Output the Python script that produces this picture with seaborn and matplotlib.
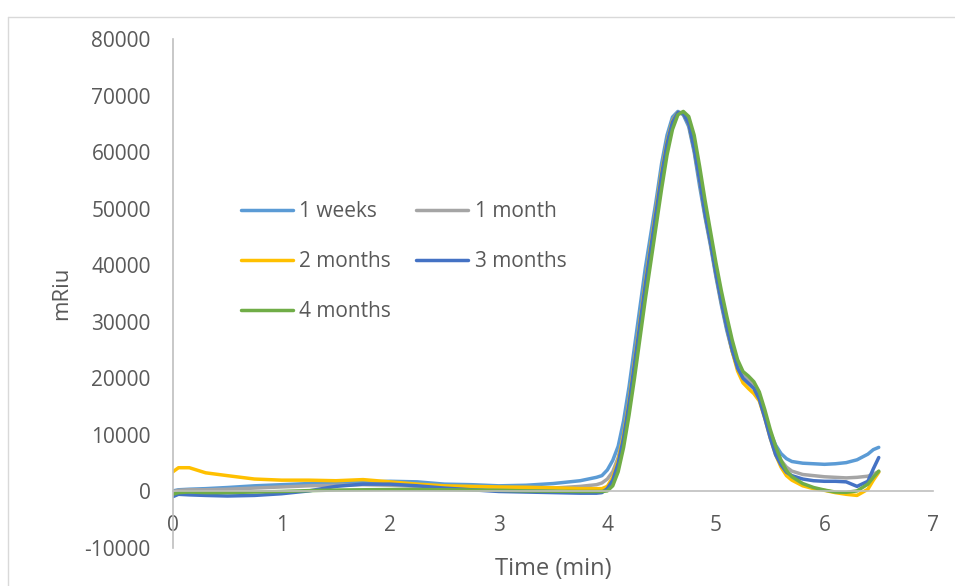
import pandas as pd
import matplotlib.pyplot as plt
import seaborn as sns
from matplotlib.lines import Line2D

# sampling times (min) shared by all runs
time_min = [0, 0.05, 0.15, 0.3, 0.5, 0.75, 1.0, 1.25, 1.5, 1.75, 2.0, 2.25, 2.5, 2.75,
            3.0, 3.25, 3.5, 3.75, 3.9, 3.95,
            4.0, 4.05, 4.1, 4.15, 4.2, 4.25, 4.3, 4.35, 4.4, 4.45,
            4.5, 4.55, 4.6, 4.65, 4.7, 4.75, 4.8, 4.85, 4.9, 4.95,
            5.0, 5.05, 5.1, 5.15, 5.2, 5.25, 5.3, 5.35, 5.4, 5.45,
            5.5, 5.55, 5.6, 5.65, 5.7,
            5.8, 5.9, 6.0, 6.1, 6.2, 6.3, 6.4, 6.45, 6.5]

one_week = [100, 300, 400, 500, 700, 1000, 1200, 1400, 1500, 1650, 1800, 1700, 1300, 1200,
            1000, 1100, 1400, 1900, 2500, 2800,
            3800, 5500, 8000, 12500, 18500, 25500, 32500, 39500, 45500, 51500,
            58000, 63000, 66200, 67200, 66600, 64500, 60000, 54000, 48500, 43500,
            38000, 33000, 28500, 24800, 21800, 20200, 19600, 18500, 16500, 13500,
            10500, 8200, 6700, 5800, 5300,
            5000, 4900, 4800, 4900, 5100, 5600, 6600, 7400, 7800]

one_month = [0, 200, 300, 300, 400, 600, 800, 1000, 1100, 1200, 1100, 900, 700, 600,
             500, 500, 600, 900, 1200, 1500,
             2200, 3500, 6000, 10000, 15500, 22500, 29500, 36500, 43000, 49500,
             56000, 61500, 65300, 67000, 67000, 65300, 61000, 55500, 49500, 44500,
             39000, 34000, 29500, 25300, 22300, 20500, 19700, 18600, 16500, 13300,
             10000, 7300, 5500, 4300, 3600,
             3000, 2800, 2600, 2500, 2400, 2500, 2700, 3100, 3500]

two_months = [3500, 4200, 4200, 3300, 2800, 2200, 2000, 2000, 1900, 2100, 1700, 1300, 1000, 900,
              800, 750, 650, 500, 500, 500,
              900, 2500, 5500, 10000, 16000, 23000, 30000, 37000, 43500, 50000,
              56500, 61800, 65500, 67000, 66800, 65000, 60500, 55000, 49000, 44000,
              38500, 33500, 29000, 24800, 21300, 19200, 18200, 17300, 16000, 13000,
              9500, 6500, 4300, 2800, 2000,
              1000, 500, 200, -200, -500, -700, 400, 2000, 3400]

three_months = [-900, -500, -600, -700, -800, -700, -400, 100, 900, 1300, 1300, 1000, 600, 300,
                0, -100, -200, -300, -300, -200,
                500, 2000, 5000, 9500, 15500, 22500, 29500, 36500, 43000, 49500,
                56000, 61500, 65300, 67000, 66800, 65000, 60500, 55000, 49000, 44000,
                38500, 33500, 29000, 25000, 21800, 20000, 19100, 18200, 16300, 13000,
                9500, 6500, 4700, 3400, 2800,
                2200, 1900, 1800, 1800, 1700, 900, 1800, 4000, 6000]

four_months = [-500, -200, -100, -200, -200, -100, 0, 150, 250, 300, 350, 350, 300, 250,
               200, 100, 50, 0, 0, 0,
               100, 1000, 3500, 7800, 13500, 20000, 27000, 34000, 40500, 47000,
               53500, 59500, 64000, 66600, 67200, 66300, 63000, 57500, 51500, 46000,
               40500, 35500, 31000, 26800, 23300, 21200, 20400, 19400, 17600, 14500,
               11000, 8000, 5500, 3700, 2600,
               1400, 700, 250, -100, -150, 100, 1300, 2500, 3600]

series_names = ['1 weeks', '1 month', '2 months', '3 months', '4 months']
series_values = [one_week, one_month, two_months, three_months, four_months]
colors = ['#5B9BD5', '#A5A5A5', '#FFC000', '#4472C4', '#70AD47']

x_ticks = [0, 1, 2, 3, 4, 5, 6, 7]
y_ticks = [-10000, 0, 10000, 20000, 30000, 40000, 50000, 60000, 70000, 80000]

frames = [pd.DataFrame({'Time': time_min, 'mRiu': vals, 'run': name})
          for name, vals in zip(series_names, series_values)]
df = pd.concat(frames, ignore_index=True)

sns.set_style('white')
plt.rcParams['font.family'] = ['Open Sans', 'DejaVu Sans']
plt.rcParams['axes.unicode_minus'] = False

fig = plt.figure(figsize=(9.55, 5.86), dpi=100)
ax = fig.add_axes([0.1812, 0.0648, 0.7958, 0.8686])

sns.lineplot(data=df, x='Time', y='mRiu', hue='run', hue_order=series_names,
             palette=dict(zip(series_names, colors)), linewidth=2.5, ax=ax)

ax.set_xlim(0, 7)
ax.set_ylim(-10000, 80000)
ax.set_xticks(x_ticks)
ax.set_yticks(y_ticks)

axis_grey = '#BFBFBF'
text_grey = '#595959'
for side in ['top', 'right']:
    ax.spines[side].set_visible(False)
ax.spines['bottom'].set_position(('data', 0))
ax.spines['bottom'].set_color(axis_grey)
ax.spines['left'].set_color(axis_grey)
ax.spines['bottom'].set_linewidth(1.2)
ax.spines['left'].set_linewidth(1.2)
ax.tick_params(axis='both', length=0, labelsize=15, colors=text_grey)
ax.tick_params(axis='x', pad=17)
ax.tick_params(axis='y', pad=16)

ax.set_xlabel('Time (min)', fontsize=17, color=text_grey)
ax.set_ylabel('mRiu', fontsize=16, color=text_grey)
ax.xaxis.set_label_coords(0.5, -0.018)
ax.yaxis.set_label_coords(-0.133, 0.5)

# legend laid out row by row like the original
handles, labels = ax.get_legend_handles_labels()
order = [0, 2, 4, 1, 3]
leg = ax.legend([handles[i] for i in order], [labels[i] for i in order],
                ncol=2, frameon=False, loc='upper left',
                bbox_to_anchor=(0.0895, 0.682), borderaxespad=0, borderpad=0,
                fontsize=15, handlelength=2.5, handletextpad=0.3,
                columnspacing=1.2, labelspacing=1.39, labelcolor=text_grey)
for line in leg.get_lines():
    line.set_linewidth(2.5)

# chart frame (top and left edges visible in the crop)
fig.add_artist(Line2D([8 / 955, 1], [1 - 17 / 586, 1 - 17 / 586],
                      transform=fig.transFigure, color='#D9D9D9', linewidth=1))
fig.add_artist(Line2D([8 / 955, 8 / 955], [0, 1 - 17 / 586],
                      transform=fig.transFigure, color='#D9D9D9', linewidth=1))

fig.savefig('out.png', dpi=100)
